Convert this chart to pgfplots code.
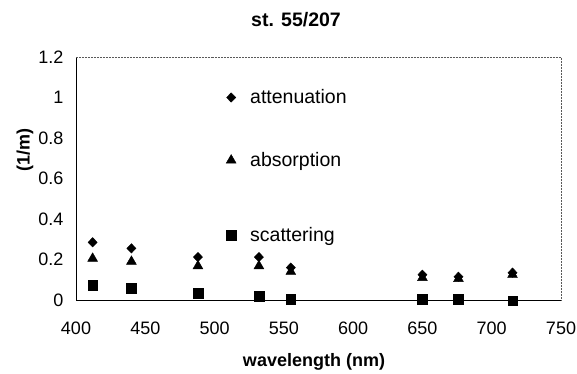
\documentclass[border=0pt]{standalone}
\usepackage{pgfplots}
\pgfplotsset{compat=1.18}
\usepackage{fontspec}
\setmainfont{Liberation Sans}
\pgfplotsset{
  base/.style={
    at={(76bp,73bp)}, anchor=south west,
    scale only axis, width=485bp, height=243bp,
    xmin=400, xmax=750, ymin=0, ymax=1.2,
    clip=false,
    legend style={anchor=west, draw=none, fill=none,
      font=\fontsize{19.5bp}{22bp}\selectfont, inner sep=0pt},
    legend image code/.code={\path[draw=none,fill=none] (-6bp,-6bp) rectangle (17bp,6bp); \draw[mark repeat=1,##1] plot coordinates {(0bp,0bp)};},
  },
}
\begin{document}
\begin{tikzpicture}[x=1bp,y=1bp]
\path[use as bounding box] (0,0) rectangle (577,373);
\begin{axis}[base,
  xtick={400,450,...,750},
  ytick={0,0.2,0.4,0.6,0.8,1,1.2},
  axis lines=left,
  axis line style={-, black, line width=0.6pt},
  major tick length=0pt,
  /pgf/number format/assume math mode=true,
  tick label style={font=\fontsize{18bp}{20bp}\selectfont},
  xticklabel style={anchor=north, yshift=-18bp},
  yticklabel style={anchor=east, xshift=-9bp},
  legend style={at={(axis cs:507.5,1.0)}},
]
\addplot[only marks, mark=diamond*, mark size=4.7bp, mark options={xscale=1.3}, black] coordinates {
(412,0.285)(440,0.255)(488,0.212)(532,0.212)(555,0.16)(650,0.125)(676,0.115)(715,0.135)};
\addlegendentry{attenuation}
\draw[densely dotted, gray!70!black, line width=0.5pt] (rel axis cs:0,1) -- (rel axis cs:1,1) -- (rel axis cs:1,0);
\end{axis}
\begin{axis}[base, hide axis,
  legend style={at={(axis cs:507.5,0.69)}},
]
\addplot[only marks, mark=triangle*, mark size=5.7bp, black] coordinates {
(412,0.205)(440,0.19)(488,0.168)(532,0.168)(555,0.14)(650,0.11)(676,0.105)(715,0.125)};
\addlegendentry{absorption}
\end{axis}
\begin{axis}[base, hide axis,
  legend style={at={(axis cs:507.5,0.32)}},
]
\addplot[only marks, mark=square*, mark size=4.8bp, black] coordinates {
(412,0.074)(440,0.058)(488,0.033)(532,0.02)(555,0.003)(650,0.003)(676,0.003)(715,-0.004)};
\addlegendentry{scattering}
\end{axis}
\node[font=\bfseries\fontsize{19.5bp}{22bp}\selectfont] at (296,353) {st. 55/207};
\node[font=\bfseries\fontsize{18bp}{20bp}\selectfont] at (314,11) {wavelength (nm)};
\node[font=\bfseries\fontsize{18bp}{20bp}\selectfont, rotate=90] at (25,223) {(1/m)};
\end{tikzpicture}
\end{document}
